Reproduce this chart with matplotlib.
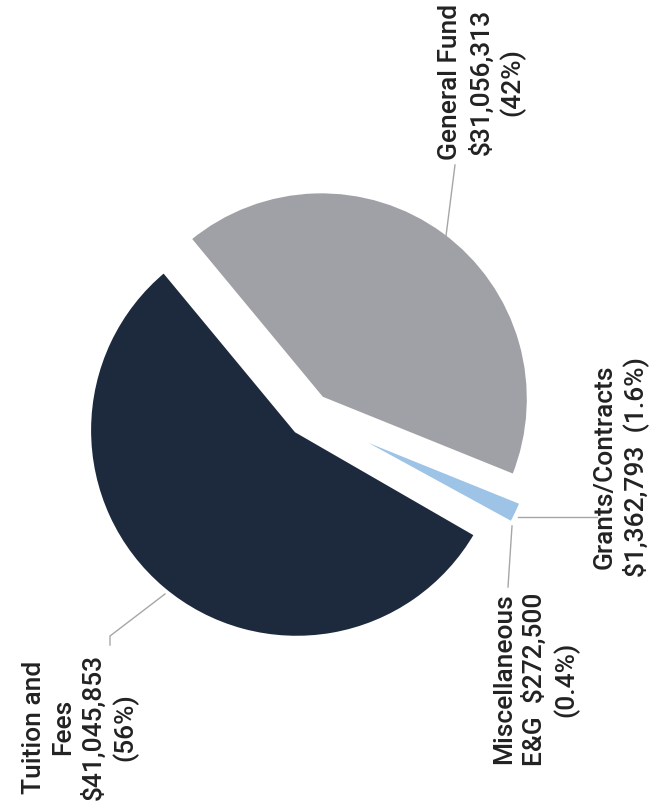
import matplotlib
matplotlib.use("Agg")
import matplotlib.pyplot as plt

# revenue sources (dollars)
sources = ["General Fund", "Tuition and Fees", "Miscellaneous E&G", "Grants/Contracts"]
amounts = [31056313, 41045853, 272500, 1362793]
colors = ["#9fa1a6", "#1d2a3d", "#c9d9ea", "#9dc3e6"]
explode = [20, 20, 22, 22]

label_text = [
    "General Fund\n$31,056,313\n(42%)",
    "Tuition and\nFees\n$41,045,853\n(56%)",
    "Miscellaneous\nE&G  $272,500\n(0.4%)",
    "Grants/Contracts\n$1,362,793  (1.6%)",
]
label_pos = [(482, 730), (80, 85), (536, 133), (621, 345)]
leaders = [
    [(455, 646), (446, 575)],
    [(110, 166), (110, 175), (165, 217)],
    [(508, 224), (512, 285)],
    [(518, 294), (597, 294)],
]

plt.rcParams["font.family"] = ["Roboto", "DejaVu Sans"]

fig = plt.figure(figsize=(6.55, 8.12), dpi=100)
ax = fig.add_axes([0, 0, 1, 1])

# page is turned sideways, so everything is drawn in page pixels
ax.pie(amounts, colors=colors, explode=explode, startangle=-22,
       center=(309.5, 396), radius=208,
       wedgeprops=dict(edgecolor="white", linewidth=3.6))

for txt, (x, y) in zip(label_text, label_pos):
    ax.text(x, y, txt, rotation=90, ha="center", va="center",
            multialignment="center", fontsize=19, fontweight="medium",
            color="#222222", linespacing=1.28)

for pts in leaders:
    xs, ys = zip(*pts)
    ax.plot(xs, ys, color="#a6a6a6", lw=1)

ax.set_xlim(0, 655)
ax.set_ylim(0, 812)
ax.set_aspect("equal")
ax.axis("off")

fig.savefig("out.png", dpi=100)
